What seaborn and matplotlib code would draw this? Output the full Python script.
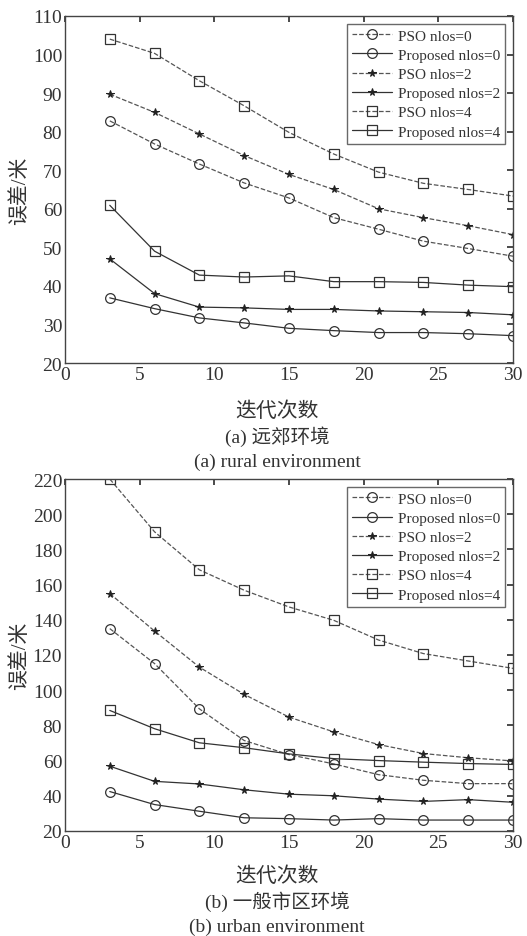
import matplotlib
matplotlib.use("Agg")
import matplotlib.pyplot as plt
import seaborn as sns
import pandas as pd

sns.set_theme(style="white")
plt.rcParams['font.family'] = ['Liberation Serif', 'Noto Sans CJK SC']
plt.rcParams['axes.unicode_minus'] = False

iters = [3, 6, 9, 12, 15, 18, 21, 24, 27, 30]

# (a) rural
rural_pso0 = [82.8, 76.8, 71.6, 66.7, 62.8, 57.7, 54.7, 51.6, 49.7, 47.7]
rural_prop0 = [36.9, 34.1, 31.7, 30.4, 29.0, 28.4, 27.9, 27.9, 27.6, 27.1]
rural_pso2 = [89.7, 85.0, 79.4, 73.8, 68.9, 65.0, 60.0, 57.7, 55.6, 53.3]
rural_prop2 = [47.0, 38.0, 34.5, 34.3, 33.9, 33.9, 33.5, 33.3, 33.1, 32.5]
rural_pso4 = [104.0, 100.3, 93.2, 86.7, 79.8, 74.2, 69.5, 66.6, 65.0, 63.3]
rural_prop4 = [60.9, 49.0, 42.8, 42.3, 42.6, 41.1, 41.1, 40.9, 40.2, 39.8]

# (b) urban
urban_pso0 = [135.0, 115.1, 89.4, 71.4, 63.4, 58.1, 52.0, 48.8, 46.9, 46.9]
urban_prop0 = [42.4, 35.0, 31.2, 27.5, 27.0, 26.2, 27.0, 26.2, 26.2, 26.2]
urban_pso2 = [154.9, 133.6, 113.1, 97.6, 84.7, 76.3, 69.1, 64.0, 61.6, 59.8]
urban_prop2 = [56.8, 48.2, 46.7, 43.4, 40.9, 40.0, 38.1, 36.8, 37.8, 36.3]
urban_pso4 = [220.0, 190.0, 168.4, 156.8, 147.3, 139.7, 128.5, 120.8, 116.6, 112.4]
urban_prop4 = [88.5, 78.1, 70.1, 67.3, 63.8, 61.1, 60.0, 59.1, 58.3, 57.8]

labels = ["PSO nlos=0", "Proposed nlos=0", "PSO nlos=2",
          "Proposed nlos=2", "PSO nlos=4", "Proposed nlos=4"]
styles = [("o", "--"), ("o", "-"), ("*", "--"), ("*", "-"), ("s", "--"), ("s", "-")]


def draw(ax, series, ylim, yticks):
    for lab, ys, (mk, ls) in zip(labels, series, styles):
        df = pd.DataFrame({"iter": iters, "err": ys})
        col = "#555555" if ls == "--" else "#333333"
        if mk == "*":
            sns.lineplot(data=df, x="iter", y="err", ax=ax, label=lab,
                         color=col, linestyle=ls, linewidth=0.9,
                         marker="*", markersize=5.5, markerfacecolor="#222222",
                         markeredgecolor="#222222")
        else:
            sns.lineplot(data=df, x="iter", y="err", ax=ax, label=lab,
                         color=col, linestyle=ls, linewidth=0.9,
                         marker=mk, markersize=7, markerfacecolor="none",
                         markeredgecolor="#333333", markeredgewidth=0.9)
    ax.set_xlim(0, 30)
    ax.set_ylim(*ylim)
    ax.set_xticks(range(0, 31, 5))
    ax.set_yticks(yticks)
    ax.tick_params(direction="in", top=True, right=True, length=4,
                   labelsize=14, colors="#333333", pad=2)
    for sp in ax.spines.values():
        sp.set_color("#444444")
        sp.set_linewidth(1.0)
    ax.set_xlabel("")
    ax.set_ylabel("误差/米", fontsize=15, color="#333333", labelpad=2)
    leg = ax.legend(loc="upper right", fontsize=11, frameon=True, fancybox=False,
                    edgecolor="#444444", handlelength=2.6, handletextpad=0.4,
                    labelspacing=0.36, borderpad=0.35, borderaxespad=0.5)
    leg.get_frame().set_linewidth(1.0)
    for t in leg.get_texts():
        t.set_color("#333333")


fig = plt.figure(figsize=(5.27, 9.37), dpi=100)
ax1 = fig.add_axes([0.1233, 0.6115, 0.8501, 0.3704])
ax2 = fig.add_axes([0.1233, 0.1121, 0.8501, 0.3756])

draw(ax1, [rural_pso0, rural_prop0, rural_pso2, rural_prop2, rural_pso4, rural_prop4],
     (20, 110), range(20, 111, 10))
draw(ax2, [urban_pso0, urban_prop0, urban_pso2, urban_prop2, urban_pso4, urban_prop4],
     (20, 220), range(20, 221, 20))

cx = 277 / 527
for y, s, fs in [(412, "迭代次数", 15), (437, "(a) 远郊环境", 14), (462, "(a) rural environment", 14),
                 (877, "迭代次数", 15), (902, "(b) 一般市区环境", 14), (927, "(b) urban environment", 14)]:
    fig.text(cx, 1 - y / 937, s, ha="center", va="center", fontsize=fs, color="#333333")

fig.savefig("out.png", dpi=100)
